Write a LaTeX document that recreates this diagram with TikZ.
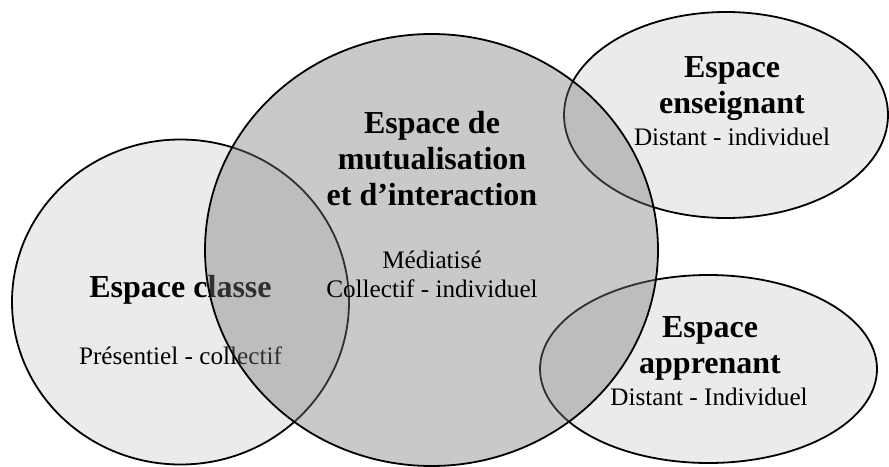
\documentclass[tikz,border=0pt]{standalone}
\usepackage{fontspec}
\setmainfont{Liberation Serif}
\usetikzlibrary{positioning}

\begin{document}
\begin{tikzpicture}[x=0.5pt, y=-0.5pt,
    space/.style={draw=black, line width=0.9pt, fill=black!8},
    mutual/.style={draw=black, line width=0.9pt, fill=black!53, fill opacity=0.4},
    titre/.style={font=\fontsize{16}{18}\selectfont\bfseries, align=center, inner sep=0pt},
    mode/.style={font=\fontsize{12.6}{14.5}\selectfont, align=center, inner sep=0pt}]
    \useasboundingbox (0, 0) rectangle (889, 466);
    \draw [space] (180.5, 302) ellipse [x radius=168.5, y radius=162.5];
    \node (classe) [titre, anchor=base] at (180.5, 297) {Espace classe};
    \node (classemode) [mode, anchor=base] at (180.5, 364) {Présentiel - collectif};
    \draw [space] (726, 115) ellipse [x radius=162, y radius=103];
    \node (enseignant) [titre] at (732, 88.6) {Espace\\enseignant};
    \node (enseignantmode) [mode, anchor=base] at (732, 145) {Distant - individuel};
    \draw [space] (708.5, 369) ellipse [x radius=168.5, y radius=94];
    \node (apprenant) [titre] at (710, 348) {Espace\\apprenant};
    \node (apprenantmode) [mode, anchor=base] at (709, 405) {Distant - Individuel};
    \draw [mutual] (431.5, 250) ellipse [x radius=226.5, y radius=216];
    \node (mutualisation) [titre] at (432, 158.5) {Espace de\\mutualisation\\et d’interaction};
    \node (mutualmode) [mode] at (432, 274) {Médiatisé\\Collectif - individuel};
\end{tikzpicture}
\end{document}
